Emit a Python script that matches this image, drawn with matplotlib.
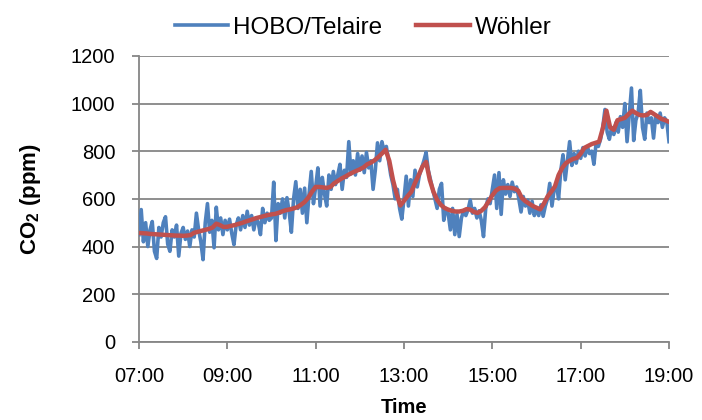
"""Indoor CO2 over one working day: HOBO/Telaire logger vs. Wöhler meter."""

import matplotlib

matplotlib.use("Agg")
import matplotlib.dates as mdates
import matplotlib.pyplot as plt
import pandas as pd

# HOBO/Telaire logger, 3-minute samples 07:00 - 19:00 (one row per hour)
hobo_times = pd.date_range("2013-01-01 07:00", "2013-01-01 19:00", freq="3min")
hobo_ppm = [
    450, 555, 420, 500, 400, 470, 505, 380, 350, 480, 440, 500, 525, 410, 380, 470, 440, 490, 360, 455,
    480, 430, 465, 400, 470, 440, 540, 470, 420, 345, 500, 580, 460, 510, 395, 565, 470, 520, 450, 510,
    470, 515, 455, 408, 490, 520, 470, 530, 480, 548, 490, 530, 470, 520, 500, 450, 560, 500, 540, 510,
    520, 670, 425, 580, 540, 600, 520, 605, 545, 460, 600, 672, 560, 640, 540, 645, 500, 620, 715, 580,
    650, 730, 570, 690, 620, 570, 700, 640, 715, 660, 700, 745, 640, 720, 690, 840, 705, 760, 700, 790,
    720, 780, 710, 795, 730, 760, 640, 720, 835, 760, 840, 800, 820, 760, 700, 660, 600, 640, 560, 515,
    600, 695, 570, 680, 610, 720, 650, 700, 730, 760, 795, 720, 680, 640, 600, 560, 640, 665, 510, 560,
    540, 470, 560, 450, 535, 442, 520, 550, 530, 555, 595, 540, 560, 520, 550, 510, 442, 560, 600, 580,
    640, 700, 560, 710, 535, 680, 620, 660, 610, 670, 630, 650, 600, 545, 610, 570, 595, 540, 590, 530,
    560, 530, 575, 527, 570, 600, 665, 570, 640, 660, 600, 720, 785, 680, 760, 840, 740, 790, 750, 800,
    770, 815, 780, 820, 790, 800, 745, 835, 820, 850, 900, 975, 880, 850, 900, 870, 920, 880, 945, 900,
    1000, 840, 950, 1065, 845, 930, 960, 1055, 900, 850, 960, 920, 940, 855, 950, 920, 960, 900, 940, 925,
    840,
]

# Wöhler meter, 5-minute samples over the same period
woehler_times = pd.date_range("2013-01-01 07:00", "2013-01-01 19:00", freq="5min")
woehler_ppm = [
    457, 456, 455, 453, 452, 451, 450, 449, 448, 447, 446, 446,
    445, 446, 448, 458, 462, 466, 470, 474, 480, 496, 490, 482,
    483, 487, 490, 495, 499, 505, 510, 515, 520, 524, 528, 532,
    535, 537, 542, 548, 553, 556, 560, 565, 575, 587, 605, 630,
    650, 650, 648, 646, 650, 665, 675, 685, 693, 702, 710, 717,
    724, 732, 745, 752, 762, 775, 790, 806, 760, 680, 620, 572,
    592, 612, 630, 667, 700, 735, 755, 680, 630, 596, 575, 562,
    555, 550, 547, 547, 550, 557, 555, 545, 541, 550, 565, 590,
    615, 635, 645, 646, 646, 646, 643, 635, 604, 590, 580, 570,
    563, 556, 580, 610, 630, 652, 700, 730, 750, 760, 768, 772,
    790, 814, 822, 830, 835, 840, 895, 970, 900, 890, 930, 935,
    940, 955, 970, 960, 952, 950, 952, 965, 955, 945, 935, 930,
    923,
]

BLUE = "#4F81BD"
RED = "#C0504D"
GRID = "#868686"

plt.rcParams["font.family"] = ["Liberation Sans", "DejaVu Sans"]
plt.rcParams["mathtext.fontset"] = "custom"
plt.rcParams["mathtext.rm"] = "Liberation Sans"
plt.rcParams["mathtext.bf"] = "Liberation Sans:bold"

fig = plt.figure(figsize=(7.02, 4.2), dpi=100)
ax = fig.add_axes([0.198, 0.186, 0.755, 0.681])

ax.plot(hobo_times, hobo_ppm, color=BLUE, linewidth=2.6, label="HOBO/Telaire", zorder=3)
ax.plot(woehler_times, woehler_ppm, color=RED, linewidth=3.2, label="Wöhler", zorder=4)

ax.set_xlim(hobo_times[0], hobo_times[-1])
ax.set_ylim(0, 1200)
ax.set_yticks(range(0, 1201, 200))
ax.xaxis.set_major_locator(mdates.HourLocator(byhour=range(7, 20, 2)))
ax.xaxis.set_major_formatter(mdates.DateFormatter("%H:%M"))

ax.grid(axis="y", color=GRID, linewidth=1.3)
ax.set_axisbelow(True)
for side in ("top", "right"):
    ax.spines[side].set_visible(False)
for side in ("left", "bottom"):
    ax.spines[side].set_color(GRID)
    ax.spines[side].set_linewidth(1.3)
ax.tick_params(axis="both", colors=GRID, width=1.3, length=5, labelsize=14.5,
               labelcolor="black")
ax.tick_params(axis="x", pad=13)
ax.tick_params(axis="y", pad=12)

ax.set_xlabel("Time", fontsize=14.5, fontweight="bold", labelpad=9)
ax.set_ylabel(r"CO$_\mathbf{2}$ (ppm)", fontsize=16, fontweight="bold", labelpad=20)

ax.legend(loc="lower center", bbox_to_anchor=(0.423, 1.025), ncol=2, frameon=False,
          fontsize=17.5, handlelength=2.2, handletextpad=0.2, columnspacing=1.4,
          borderaxespad=0)

fig.savefig("out.png", dpi=100)
